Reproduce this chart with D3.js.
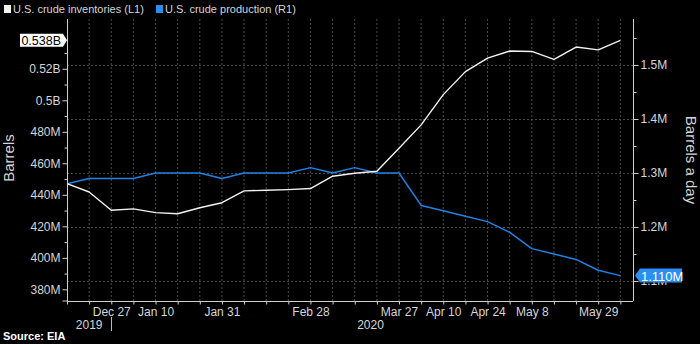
<!DOCTYPE html>
<html>
<head>
<meta charset="utf-8">
<script src="https://cdn.jsdelivr.net/npm/d3@7/dist/d3.min.js"></script>
<style>
  html, body { margin: 0; padding: 0; background: #000; }
  svg { display: block; font-family: "Liberation Sans", Arial, sans-serif; }
</style>
</head>
<body>
<svg id="chart" width="700" height="344"></svg>
<script>
// ---- data ----
const weeks = ["2019-12-13","2019-12-20","2019-12-27","2020-01-03","2020-01-10","2020-01-17","2020-01-24","2020-01-31",
  "2020-02-07","2020-02-14","2020-02-21","2020-02-28","2020-03-06","2020-03-13","2020-03-20","2020-03-27",
  "2020-04-03","2020-04-10","2020-04-17","2020-04-24","2020-05-01","2020-05-08","2020-05-15","2020-05-22","2020-05-29","2020-06-05"];
const inventories = [447.1, 441.8, 430.2, 431.1, 428.7, 428.0, 431.8, 435.0, 442.5, 442.9, 443.3, 444.0, 451.8, 453.7, 455.0, 469.6,
  484.4, 503.6, 518.2, 526.8, 531.3, 531.0, 526.0, 533.8, 532.0, 538.1];           // million barrels (L1)
const production = [1.28, 1.29, 1.29, 1.29, 1.30, 1.30, 1.30, 1.29, 1.30, 1.30, 1.30, 1.31, 1.30, 1.31, 1.30, 1.30,
  1.24, 1.23, 1.22, 1.21, 1.19, 1.16, 1.15, 1.14, 1.12, 1.11];                      // million barrels a day (R1)
const leftTicks = [380, 400, 420, 440, 460, 480, 500, 520];
const leftTickLabels = ["380M", "400M", "420M", "440M", "460M", "480M", "0.5B", "0.52B"];
const leftMinor = [390, 410, 430, 450, 470, 490, 510, 530];
const rightTicks = [1.1, 1.2, 1.3, 1.4, 1.5];
const rightTickLabels = ["1.1M", "1.2M", "1.3M", "1.4M", "1.5M"];
const rightMinor = [1.15, 1.25, 1.35, 1.45, 1.55];
const xLabelDates = ["2019-12-27","2020-01-10","2020-01-31","2020-02-28","2020-03-27","2020-04-10","2020-04-24","2020-05-08","2020-05-29"];
const seriesNames = ["U.S. crude inventories (L1)", "U.S. crude production (R1)"];
const lastInvLabel = "0.538B";
const lastProdLabel = "1.110M";

// ---- setup ----
const parse = d3.utcParse("%Y-%m-%d");
const dates = weeks.map(parse);
const svg = d3.select("#chart");
const W = 700, H = 344;
const L = 67, R = 633, T = 19, B = 301;
const white = "#f2f2f2", blue = "#1f82e6", boxBlue = "#2b8ff0", txt = "#d6d6d6", grid = "#4a4a4a";

svg.append("rect").attr("width", W).attr("height", H).attr("fill", "#000");

const x = d3.scaleUtc().domain([dates[0], d3.utcDay.offset(dates[dates.length - 1], 4)]).range([L, R]);
const yL = d3.scaleLinear().domain([372.6, 551.6]).range([B, T]);
const yR = d3.scaleLinear().domain([1.063, 1.5852]).range([B, T]);

// gridlines
const gridG = svg.append("g");
gridG.selectAll("line.v").data(dates.slice(1)).join("line")
  .attr("x1", d => x(d)).attr("x2", d => x(d)).attr("y1", T).attr("y2", B)
  .attr("stroke", grid).attr("stroke-width", 1).attr("stroke-dasharray", "2,2");
gridG.selectAll("line.h").data(rightTicks).join("line")
  .attr("x1", L).attr("x2", R).attr("y1", d => Math.round(yR(d)) + 0.5).attr("y2", d => Math.round(yR(d)) + 0.5)
  .attr("stroke", grid).attr("stroke-width", 1).attr("stroke-dasharray", "2,2");

// left axis
const axL = svg.append("g").attr("transform", `translate(${L + 0.5},0)`)
  .call(d3.axisLeft(yL).tickValues(leftTicks).tickFormat((d, i) => leftTickLabels[i]).tickSize(5).tickPadding(2));
svg.append("g").attr("transform", `translate(${L + 0.5},0)`)
  .call(d3.axisLeft(yL).tickValues(leftMinor).tickFormat("").tickSize(3)).call(g => g.select(".domain").remove());

// right axis
const axR = svg.append("g").attr("transform", `translate(${R + 0.5},0)`)
  .call(d3.axisRight(yR).tickValues(rightTicks).tickFormat((d, i) => rightTickLabels[i]).tickSize(5).tickPadding(2));
svg.append("g").attr("transform", `translate(${R + 0.5},0)`)
  .call(d3.axisRight(yR).tickValues(rightMinor).tickFormat("").tickSize(3)).call(g => g.select(".domain").remove());

// bottom axis
const fmt = d3.utcFormat("%b %-d");
const labelSet = new Set(xLabelDates);
const axB = svg.append("g").attr("transform", `translate(0,${B + 0.5})`)
  .call(d3.axisBottom(x).tickValues(dates).tickSize(3).tickPadding(3)
    .tickFormat(d => labelSet.has(d3.utcFormat("%Y-%m-%d")(d)) ? fmt(d) : ""));

svg.selectAll(".domain").attr("stroke", "#d0d0d0").attr("stroke-width", 1);
svg.selectAll(".tick line").attr("stroke", "#d0d0d0");
svg.selectAll(".tick text").attr("fill", txt).attr("font-size", "12px")
  .attr("font-family", "'Liberation Sans', Arial, sans-serif");
axL.select(".domain").attr("d", `M-5,${yL.range()[0]}H0V${T}`);
axR.select(".domain").attr("d", `M0,${B}V${T}`);
axB.select(".domain").attr("d", `M${L},0H${R}`);

// year labels + separator
svg.append("text").attr("x", x(parse("2019-12-20"))).attr("y", 329).attr("text-anchor", "middle")
  .attr("fill", txt).attr("font-size", "12px").text("2019");
svg.append("line").attr("x1", Math.round(x(parse("2019-12-27"))) + 0.5).attr("x2", Math.round(x(parse("2019-12-27"))) + 0.5)
  .attr("y1", 317).attr("y2", 331).attr("stroke", "#bbb");
svg.append("text").attr("x", x(parse("2020-03-18"))).attr("y", 329).attr("text-anchor", "middle")
  .attr("fill", txt).attr("font-size", "12px").text("2020");

// lines
const lineInv = d3.line().x((d, i) => x(dates[i])).y(d => yL(d));
const lineProd = d3.line().x((d, i) => x(dates[i])).y(d => yR(d));
svg.append("path").datum(production).attr("d", lineProd).attr("fill", "none")
  .attr("stroke", blue).attr("stroke-width", 1.5).attr("stroke-linejoin", "round");
svg.append("path").datum(inventories).attr("d", lineInv).attr("fill", "none")
  .attr("stroke", white).attr("stroke-width", 1.4).attr("stroke-linejoin", "round");

// axis titles
svg.append("text").attr("transform", `translate(14,${(T + B) / 2 - 2}) rotate(-90)`).attr("text-anchor", "middle")
  .attr("fill", txt).attr("font-size", "15px").text("Barrels");
svg.append("text").attr("transform", `translate(686,${(T + B) / 2}) rotate(90)`).attr("text-anchor", "middle")
  .attr("fill", txt).attr("font-size", "15px").text("Barrels a day");

// last value labels
const yi = yL(inventories[inventories.length - 1]);
svg.append("path").attr("d", `M20,${yi - 6.5}H63L67,${yi}L63,${yi + 6.5}H20Z`).attr("fill", "#fff");
svg.append("text").attr("x", 61).attr("y", yi + 4.5).attr("text-anchor", "end").attr("fill", "#000")
  .attr("font-size", "12.5px").text(lastInvLabel);
const yp = yR(production[production.length - 1]);
svg.append("path").attr("d", `M640,${yp - 7}H682V${yp + 7}H640L635,${yp}Z`).attr("fill", boxBlue);
svg.append("text").attr("x", 641).attr("y", yp + 5).attr("fill", "#fff").attr("font-size", "13px").text(lastProdLabel);

// legend
const lg = svg.append("g");
lg.append("rect").attr("x", 4).attr("y", 5).attr("width", 7).attr("height", 8).attr("fill", white);
lg.append("text").attr("x", 13).attr("y", 13).attr("fill", txt).attr("font-size", "11px").text(seriesNames[0]);
lg.append("rect").attr("x", 156).attr("y", 5).attr("width", 7).attr("height", 8).attr("fill", boxBlue);
lg.append("text").attr("x", 165).attr("y", 13).attr("fill", txt).attr("font-size", "11px").text(seriesNames[1]);

// source
svg.append("text").attr("x", 3).attr("y", 340).attr("fill", "#fff").attr("font-size", "11px")
  .attr("font-weight", "bold").text("Source: EIA");
</script>
</body>
</html>
